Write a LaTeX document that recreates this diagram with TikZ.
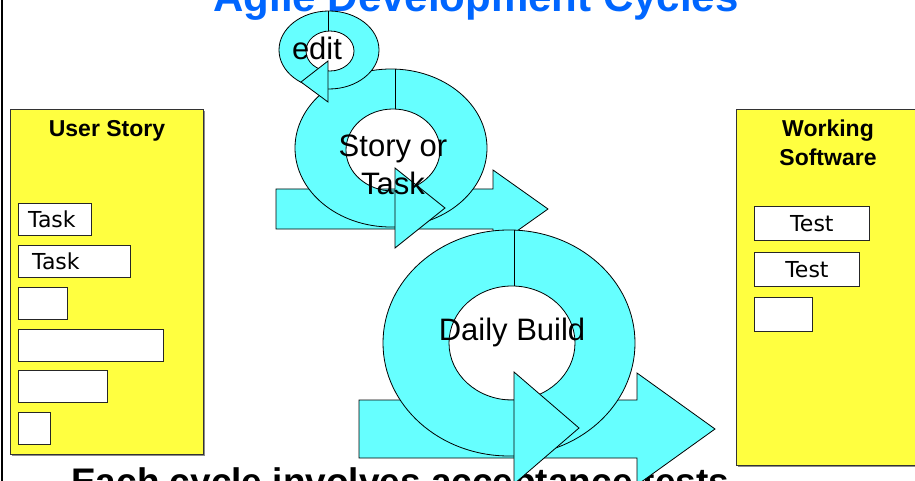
\documentclass[tikz,border=0pt]{standalone}
\usepackage{fontspec}
\setmainfont{Liberation Sans}
\newfontfamily\boxfont{DejaVu Sans}
\usetikzlibrary{positioning,shadows}

\definecolor{ringcyan}{RGB}{102,255,255}
\definecolor{notepad}{RGB}{255,255,64}
\definecolor{titleblue}{RGB}{0,102,255}

\tikzset{
    ring/.style={draw=black, fill=ringcyan, line width=0.8pt, even odd rule},
    arrowpart/.style={draw=black, fill=ringcyan, line width=0.8pt, line join=miter},
    panel/.style={draw=black!80, fill=notepad, line width=0.8pt, anchor=north west, inner sep=0pt,
        general shadow={fill=black!45, shadow xshift=1.2pt, shadow yshift=-1.2pt}},
    card/.style={draw=black!85, fill=white, line width=0.8pt, anchor=north west, inner sep=0pt,
        general shadow={fill=black!35, shadow xshift=1pt, shadow yshift=-1pt}},
    cardtext/.style={font=\boxfont\fontsize{22}{26}\selectfont, inner sep=0pt},
    cycletext/.style={font=\fontsize{31}{38}\selectfont, align=center, inner sep=0pt},
    heading/.style={font=\bfseries\fontsize{23}{29}\selectfont, align=center, inner sep=0pt},
}

\begin{document}
\begin{tikzpicture}[x=1pt,y=-1pt]
    \useasboundingbox (0,0) rectangle (915,481);
    \clip (0,0) rectangle (915,481);

    \draw[line width=1.2pt] (2,0) -- (2,481);

    \node[font=\bfseries\fontsize{42}{50}\selectfont, text=titleblue, anchor=base] (title) at (476,12) {Agile Development Cycles};
    \node[font=\bfseries\fontsize{37}{44}\selectfont, anchor=base west, inner sep=0pt] (note) at (71,494) {Each cycle involves acceptance tests};

    % user story
    \node[panel, minimum width=193pt, minimum height=345pt] (story) at (10,109) {};
    \node[heading, anchor=base] (storyhead) at (107,137) {User Story};
    \foreach \w/\y [count=\i] in {73/203, 112/245, 49/287, 145/329, 89/370, 32/412}
        \node[card, minimum width=\w pt, minimum height=32pt] (task\i) at (18,\y) {};
    \node[cardtext, right=10pt of task1.west] (tasklbl1) {Task};
    \node[cardtext, right=14pt of task2.west] (tasklbl2) {Task};

    % working software
    \node[panel, minimum width=194pt, minimum height=356pt] (soft) at (736,109) {};
    \node[heading] (softhead) at (828,143) {Working\\Software};
    \foreach \w/\y [count=\i] in {115/206, 105/252, 58/297}
        \node[card, minimum width=\w pt, minimum height=34pt] (test\i) at (754,\y) {};
    \node[cardtext] (testlbl1) at (test1) {Test};
    \node[cardtext] (testlbl2) at (test2) {Test};

    % story or task cycle
    \draw[arrowpart] (276,189) -- (493,189) -- (493,170) -- (548,209) -- (493,248) -- (493,229) -- (276,229) -- cycle;
    \filldraw[ring] (391,148) ellipse [x radius=96pt, y radius=79pt] (393,150) ellipse [x radius=47pt, y radius=41pt];
    \draw[line width=0.8pt] (395,69) -- (395,109);
    \draw[arrowpart] (395,168) -- (445,208) -- (395,248) -- cycle;

    % edit cycle
    \filldraw[ring] (329,50) ellipse [x radius=50pt, y radius=39pt] (330,51) ellipse [x radius=24pt, y radius=20pt];
    \draw[line width=0.8pt] (328,11) -- (328,31);
    \draw[arrowpart] (328,61) -- (301,82) -- (328,102) -- cycle;

    % daily build cycle
    \draw[arrowpart] (359,400) -- (637,400) -- (637,373) -- (715,429) -- (637,485) -- (637,458) -- (359,458) -- cycle;
    \filldraw[ring] (509,343) ellipse [x radius=126pt, y radius=113pt] (512,343) ellipse [x radius=63pt, y radius=57pt];
    \draw[line width=0.8pt] (514,230) -- (514,286);
    \draw[arrowpart] (514,372) -- (579,428) -- (514,484) -- cycle;

    \node[cycletext, anchor=base] (edit) at (317,60) {edit};
    \node[cycletext] (storytask) at (393,165) {Story or\\Task};
    \node[cycletext, anchor=base] (build) at (512,340) {Daily Build};
\end{tikzpicture}
\end{document}
